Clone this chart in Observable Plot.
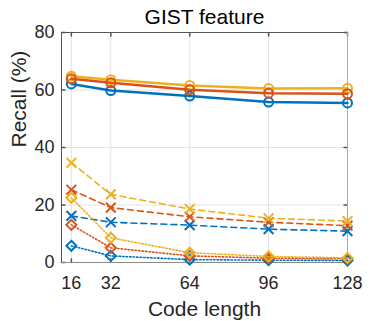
<!DOCTYPE html>
<html>
<head>
<meta charset="utf-8">
<script src="https://cdn.jsdelivr.net/npm/d3@7"></script>
<script src="https://cdn.jsdelivr.net/npm/@observablehq/plot@0.6"></script>
<style>
html, body { margin: 0; padding: 0; background: #fff; }
</style>
</head>
<body>
<div id="chart"></div>
<script>
const codeLength = [16, 32, 64, 96, 128];
const xTicks = [16, 32, 64, 96, 128];
const yTicks = [0, 20, 40, 60, 80];

const blueSolid   = [62.1, 59.8, 57.9, 55.8, 55.5];
const redSolid    = [63.9, 62.5, 60.1, 58.9, 58.7];
const yellowSolid = [64.8, 63.6, 61.6, 60.5, 60.6];

const yellowDashed = [34.7, 23.7, 18.6, 15.4, 14.4];
const redDashed    = [25.3, 19.1, 15.9, 14.0, 12.8];
const blueDashed   = [16.2, 14.0, 13.0, 11.6, 10.9];

const yellowDotted = [22.5, 8.6, 3.4, 2.1, 1.6];
const redDotted    = [13.1, 5.1, 2.3, 1.5, 1.3];
const blueDotted   = [5.8, 2.3, 1.0, 0.8, 0.7];

const series = [
  {values: blueDashed,   color: "#0072BD", dash: "6,4", width: 1.6, symbol: "times",    r: 4.5},
  {values: redDashed,    color: "#D95319", dash: "6,4", width: 1.6, symbol: "times",    r: 4.5},
  {values: yellowDashed, color: "#EDB120", dash: "6,4", width: 1.6, symbol: "times",    r: 4.5},
  {values: blueDotted,   color: "#0072BD", dash: "1.5,2", width: 1.6, symbol: "diamond2", r: 4.5},
  {values: redDotted,    color: "#D95319", dash: "1.5,2", width: 1.6, symbol: "diamond2", r: 4.5},
  {values: yellowDotted, color: "#EDB120", dash: "1.5,2", width: 1.6, symbol: "diamond2", r: 4.5},
  {values: blueSolid,    color: "#0072BD", dash: null, width: 2.5, symbol: "circle", r: 4.5},
  {values: yellowSolid,  color: "#EDB120", dash: null, width: 2.5, symbol: "circle", r: 4.5},
  {values: redSolid,     color: "#D95319", dash: null, width: 2.5, symbol: "circle", r: 4.5}
];

const seriesMarks = series.flatMap(s => {
  const rows = codeLength.map((x, i) => ({x, y: s.values[i]}));
  return [
    Plot.line(rows, {x: "x", y: "y", stroke: s.color, strokeWidth: s.width, strokeDasharray: s.dash}),
    Plot.dot(rows, {x: "x", y: "y", stroke: s.color, strokeWidth: 2, symbol: s.symbol, r: s.r, fill: s.symbol === "circle" ? "none" : null})
  ];
});

const tickShape = {draw(context, l) { context.moveTo(0, 0); context.lineTo(0, -l); }};
const font = "'Liberation Sans', Arial, Helvetica, sans-serif";

const chart = Plot.plot({
  width: 374,
  height: 321,
  marginLeft: 61,
  marginRight: 27,
  marginTop: 32,
  marginBottom: 59,
  style: {fontFamily: font, background: "#fff", color: "#262626"},
  x: {domain: [12, 128], axis: null},
  y: {domain: [0, 80], axis: null},
  marks: [
    Plot.gridX(xTicks, {stroke: "#e3e3e3", strokeOpacity: 1}),
    Plot.gridY(yTicks, {stroke: "#e3e3e3", strokeOpacity: 1}),
    Plot.vector(xTicks, {x: d => d, frameAnchor: "bottom", length: 3.5, rotate: 0, anchor: "start", shape: tickShape, stroke: "#555"}),
    Plot.vector(xTicks, {x: d => d, frameAnchor: "top", length: 3.5, rotate: 180, anchor: "start", shape: tickShape, stroke: "#555"}),
    Plot.vector(yTicks, {y: d => d, frameAnchor: "left", length: 3.5, rotate: 90, anchor: "start", shape: tickShape, stroke: "#555"}),
    Plot.vector(yTicks, {y: d => d, frameAnchor: "right", length: 3.5, rotate: -90, anchor: "start", shape: tickShape, stroke: "#555"}),
    Plot.ruleY([0], {stroke: "#8a8a8a"}),
    Plot.ruleX([128], {stroke: "#aaaaaa"}),
    Plot.ruleX([12], {stroke: "#555"}),
    Plot.ruleY([80], {stroke: "#555"}),
    ...seriesMarks,
    Plot.text(xTicks, {x: d => d, frameAnchor: "bottom", text: d => String(d), dy: 26, fontSize: 18, fill: "#262626", lineAnchor: "bottom"}),
    Plot.text(yTicks, {y: d => d, frameAnchor: "left", text: d => String(d), dx: -7, fontSize: 18, fill: "#262626", textAnchor: "end", lineAnchor: "middle"}),
    Plot.text(["Code length"], {frameAnchor: "bottom", text: d => d, dy: 53, fontSize: 21, fill: "#262626", lineAnchor: "bottom"}),
    Plot.text(["Recall (%)"], {frameAnchor: "left", text: d => d, dx: -42, rotate: -90, fontSize: 21, fill: "#262626", lineAnchor: "middle"}),
    Plot.text(["GIST feature"], {frameAnchor: "top", text: d => d, dy: -9, fontSize: 21, fill: "#000", lineAnchor: "bottom"})
  ]
});

document.getElementById("chart").appendChild(chart);
</script>
</body>
</html>
